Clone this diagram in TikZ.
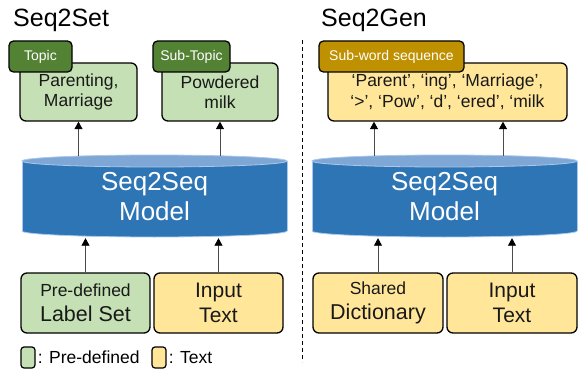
\documentclass[tikz,border=0pt]{standalone}
\usepackage{fontspec}
\setmainfont{Liberation Sans}
\usetikzlibrary{arrows.meta}

\definecolor{lblgreen}{RGB}{197,224,180}
\definecolor{tagreen}{RGB}{84,130,53}
\definecolor{txtyellow}{RGB}{255,230,153}
\definecolor{taggold}{RGB}{191,144,0}
\definecolor{cylblue}{RGB}{46,117,182}
\definecolor{cyltop}{RGB}{126,167,214}
\definecolor{cyledge}{RGB}{170,200,235}

\begin{document}
\begin{tikzpicture}[x=1pt,y=-1pt]
        \tikzstyle{box}=[draw=black, line width=1.3pt, rounded corners=6pt, align=center, inner sep=0pt, text=black!90];
        \tikzstyle{outbox}=[box, minimum height=58pt, font=\fontsize{17.5}{20.5}\selectfont];
        \tikzstyle{inbox}=[box, minimum width=129pt, minimum height=60pt, font=\fontsize{21}{25}\selectfont];
        \tikzstyle{tag}=[draw=black, line width=1.3pt, rounded corners=4.5pt, inner sep=0pt, minimum height=31pt, text=white, font=\fontsize{14}{16}\selectfont];
        \tikzstyle{model}=[inner sep=0pt, minimum width=265pt, minimum height=82pt, align=center, text=white, font=\fontsize{26}{30}\selectfont];
        \tikzstyle{arr}=[draw=black!70, line width=0.9pt, -{Triangle[width=8pt,length=7.5pt,black]}];
        \tikzstyle{title}=[inner sep=0pt, anchor=base west, font=\fontsize{25}{28}\selectfont];
        \tikzstyle{legbox}=[draw=black, line width=1.2pt, rounded corners=3pt, minimum width=14pt, minimum height=21pt, inner sep=0pt];
        \tikzstyle{legtxt}=[anchor=west, inner sep=2pt, font=\fontsize{17.5}{20}\selectfont];

        \useasboundingbox (0,0) rectangle (579,369);

        % titles
        \node[title] (set) at (13,27) {Seq2Set};
        \node[title] (gen) at (321,27) {Seq2Gen};

        % cylinders
        \foreach \cx in {154.5, 444.5} {
            \fill[cylblue] (\cx-132.5,161) rectangle (\cx+132.5,231);
            \fill[cylblue] (\cx,231) circle[x radius=132.5, y radius=6];
            \draw[cyledge, line width=0.8pt] (\cx-132.5,161) -- (\cx-132.5,231)
                (\cx+132.5,161) -- (\cx+132.5,231);
            \draw[cyledge, line width=0.8pt] (\cx-132.5,231) arc[start angle=180, end angle=0, x radius=132.5, y radius=6];
            \filldraw[fill=cyltop, draw=cyledge, line width=0.8pt] (\cx,161) circle[x radius=132.5, y radius=6];
        }
        \node[model] (mset) at (154.5,197) {Seq2Seq\\Model};
        \node[model] (mgen) at (444.5,197) {Seq2Seq\\Model};

        % Seq2Set outputs
        \node[outbox, fill=lblgreen, minimum width=117pt] (topic) at (78.5,92) {Parenting,\\Marriage};
        \node[outbox, fill=lblgreen, minimum width=116pt] (subtopic) at (220,92) {Powdered\\milk};
        \node[tag, fill=tagreen, minimum width=63pt] (ttopic) at (40.5,56.5) {Topic};
        \node[tag, fill=tagreen, minimum width=77pt] (tsub) at (191.5,56.5) {Sub-Topic};

        % Seq2Gen output
        \node[outbox, fill=txtyellow, minimum width=239pt] (seq) at (447.5,92) {‘Parent’, ‘ing’, ‘Marriage’,\\‘>’, ‘Pow’, ‘d’, ‘ered’, ‘milk};
        \node[tag, fill=taggold, minimum width=145pt] (tseq) at (391.5,56.5) {Sub-word sequence};

        % inputs
        \node[inbox, fill=lblgreen] (labels) at (85.5,303) {{\fontsize{17.5}{20}\selectfont Pre-defined}\\{\fontsize{21.5}{25}\selectfont Label Set}};
        \node[inbox, fill=txtyellow] (textL) at (218.5,303) {Input\\Text};
        \node[inbox, fill=txtyellow, minimum width=130pt] (dict) at (378,303) {{\fontsize{17.5}{20}\selectfont Shared}\\{\fontsize{21.5}{25}\selectfont Dictionary}};
        \node[inbox, fill=txtyellow, minimum width=130pt] (textR) at (512,303) {Input\\Text};

        % arrows
        \draw[arr] (labels.north) -- (labels.north |- mset.south);
        \draw[arr] (textL.north) -- (textL.north |- mset.south);
        \draw[arr] (dict.north) -- (dict.north |- mgen.south);
        \draw[arr] (textR.north) -- (textR.north |- mgen.south);
        \draw[arr] (topic.south |- mset.north) -- (topic.south);
        \draw[arr] (subtopic.south |- mset.north) -- (subtopic.south);
        \draw[arr] ([xshift=-4pt]dict.north |- mgen.north) -- ([xshift=-4pt]dict.north |- seq.south);
        \draw[arr] ([xshift=-9pt]textR.north |- mgen.north) -- ([xshift=-9pt]textR.north |- seq.south);

        % divider
        \coordinate (divtop) at (302,40);
        \coordinate (divbot) at (302,362);
        \draw[line width=0.9pt, dash pattern=on 4pt off 3pt] (divtop) -- (divbot);

        % legend
        \node[legbox, fill=lblgreen] (lgreen) at (28,357.5) {};
        \node[legtxt] (lgreentxt) at (lgreen.east) {: Pre-defined};
        \node[legbox, fill=txtyellow] (lyellow) at (159,357.5) {};
        \node[legtxt] (lyellowtxt) at (lyellow.east) {: Text};
    \end{tikzpicture}
\end{document}
